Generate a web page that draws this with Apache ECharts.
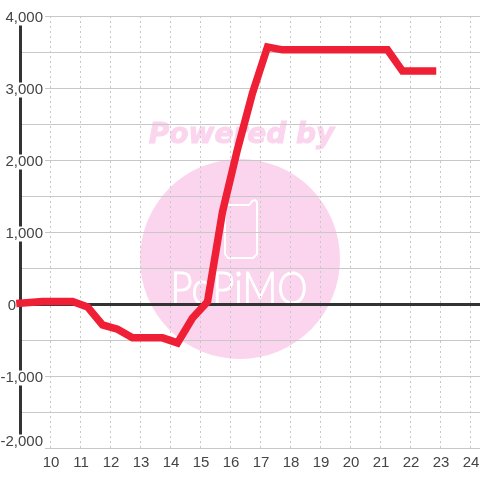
<!DOCTYPE html>
<html><head><meta charset="utf-8">
<style>html,body{margin:0;padding:0;background:#fff}#c{width:480px;height:480px}</style>
<script src="https://cdn.jsdelivr.net/npm/echarts@6/dist/echarts.min.js"></script>
</head><body><div id="c"></div>
<script>
const hours = [9, 9.75, 10.25, 10.75, 11.25, 11.75, 12.25, 12.75, 13.25, 13.75, 14.25, 14.75, 15.25, 15.75, 16.25, 16.75, 17.25, 17.75, 18.25, 18.75, 19.25, 19.75, 20.25, 20.75, 21.25, 21.75, 22.25, 22.75];
const values = [10, 35, 35, 35, -40, -290, -350, -470, -470, -470, -540, -195, 30, 1280, 2150, 2930, 3570, 3530, 3530, 3530, 3530, 3530, 3530, 3530, 3530, 3235, 3235, 3235];
const xMin = 9, xMax = 24 + 1/3;
const yMin = -2000, yMax = 4000;

const chart = echarts.init(document.getElementById('c'), null, {renderer:'canvas'});
const pink = '#fbd5ee', grey = '#c8c8c8', dark = '#333333', ink = '#444444';
const z = -1;
const fmt = v => (v < 0 ? '-' : '') + Math.abs(v).toLocaleString('en-US');
chart.setOption({
  animation:false,
  backgroundColor:'#fff',
  textStyle:{fontFamily:'"Liberation Sans"'},
  grid:{left:20,right:0,top:16,bottom:32,containLabel:false,outerBoundsMode:'none'},
  graphic:[
    {type:'circle',z,silent:true,shape:{cx:240,cy:259,r:100},style:{fill:pink}},
    {type:'text',z,silent:true,x:241.5,y:136,style:{text:'Powered by',fill:pink,stroke:pink,lineWidth:1,font:'italic bold 28px "DejaVu Sans"',textAlign:'center',textVerticalAlign:'middle'}},
    {type:'polyline',z,silent:true,shape:{points:[[227,205],[249,205],[251,203],[252,201],[255,200],[257,202],[257,254],[253,258],[228,258],[225,254],[225,205]]},style:{fill:null,stroke:'#fff',lineWidth:2}},
    {type:'text',z,silent:true,x:239,y:289,scaleX:0.85,style:{text:'PoPiMO',fill:'#fff',stroke:'#fff',lineWidth:1,font:'300 45px Lato',textAlign:'center',textVerticalAlign:'middle',letterSpacing:2}}
  ],
  xAxis:[
    {type:'value',min:xMin,max:xMax,interval:1,position:'bottom',
     axisLine:{show:false,onZero:false},axisTick:{show:false},
     splitLine:{show:true,showMinLine:false,showMaxLine:false,lineStyle:{color:grey,width:1,type:[2,3]}},
     axisLabel:{show:true,color:ink,fontSize:15,margin:7,showMinLabel:false,showMaxLabel:false,padding:[0,0,0,2],
       formatter:v=>Number.isInteger(v)&&v>xMin?String(v):''}},
    {type:'value',min:xMin,max:xMax,interval:1,
     axisLine:{show:true,onZero:true,lineStyle:{color:dark,width:3}},
     axisTick:{show:false},splitLine:{show:false},axisLabel:{show:false}}
  ],
  yAxis:{type:'value',min:yMin,max:yMax,interval:1000,
    axisLine:{show:true,onZero:false,lineStyle:{color:dark,width:3}},
    axisTick:{show:false},
    splitLine:{show:true,lineStyle:{color:grey,width:1}},
    minorTick:{show:false,splitNumber:2},
    minorSplitLine:{show:true,lineStyle:{color:grey,width:1}},
    axisLabel:{show:true,margin:-25,color:ink,fontSize:15,padding:[4,0,0,0],
      formatter:v=> v===0 ? '{z|0}' : v===yMin ? '{b|'+fmt(v)+'}' : '{a|'+fmt(v)+'}',
      rich:{
        a:{color:ink,fontSize:15,lineHeight:13,backgroundColor:'#fff',padding:[0,2,0,2]},
        b:{color:ink,fontSize:15,lineHeight:13,backgroundColor:'#fff',padding:[0,2,16,2]},
        z:{color:ink,fontSize:15,lineHeight:13,padding:[0,29,0,0]}
      }}},
  series:[{type:'line',xAxisIndex:0,data:hours.map((h,i)=>[h,values[i]]),symbol:'none',clip:false,z:5,
    lineStyle:{color:'#ef1f35',width:7.5,cap:'square',join:'miter'}}]
});
</script></body></html>
